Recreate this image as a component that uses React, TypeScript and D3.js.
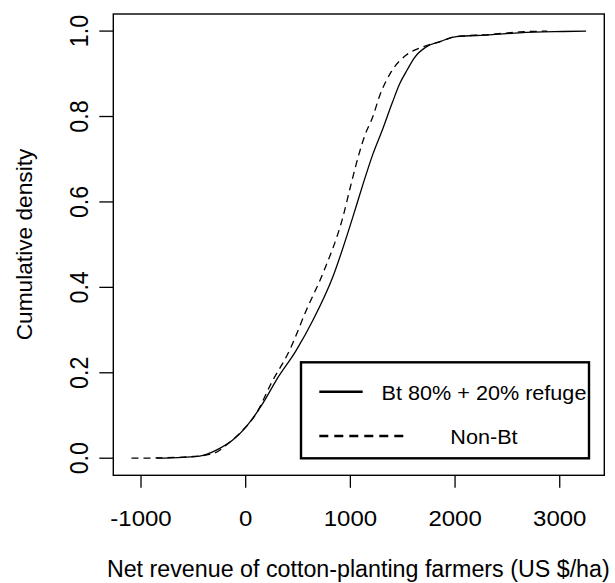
import React from "react";
import * as d3 from "d3";

const btX = [-853, -600, -439, -248, -121, 6, 165, 293, 484, 642, 833, 1024, 1120, 1215, 1311, 1400, 1470, 1545, 1613, 1725, 1852, 2011, 2329, 2616, 3029, 3252];
const btY = [0.0, 0.002, 0.005, 0.023, 0.043, 0.074, 0.129, 0.183, 0.253, 0.323, 0.425, 0.565, 0.641, 0.712, 0.772, 0.832, 0.876, 0.91, 0.938, 0.963, 0.975, 0.987, 0.991, 0.996, 0.999, 1.0];

const nonBtX = [-1091, -800, -500, -300, -184, -26, 102, 245, 420, 580, 738, 929, 1010, 1082, 1140, 1215, 1279, 1391, 1534, 1693, 1852, 2011, 2329, 2616, 2880];
const nonBtY = [0.0, 0.001, 0.004, 0.012, 0.031, 0.066, 0.105, 0.176, 0.253, 0.347, 0.433, 0.565, 0.645, 0.712, 0.757, 0.8, 0.848, 0.905, 0.944, 0.963, 0.975, 0.987, 0.992, 0.998, 1.0];

const xTicks = [-1000, 0, 1000, 2000, 3000];
const yTicks = [0, 0.2, 0.4, 0.6, 0.8, 1.0];
const legendLabels = ["Bt 80% + 20% refuge", "Non-Bt"];
const xTitle = "Net revenue of cotton-planting farmers (US $/ha)";
const yTitle = "Cumulative density";

const W = 615;
const H = 583;
const box = { left: 113.3, right: 604.3, top: 14, bottom: 475.3 };
const FONT = "'Liberation Sans', Arial, Helvetica, sans-serif";

export default function App() {
  const allX = [...btX, ...nonBtX];
  const xmin = d3.min(allX) as number;
  const xmax = d3.max(allX) as number;
  const xr = xmax - xmin;
  const x = d3.scaleLinear().domain([xmin - 0.04 * xr, xmax + 0.04 * xr]).range([box.left, box.right]);
  const y = d3.scaleLinear().domain([-0.04, 1.04]).range([box.bottom, box.top]);

  const line = d3
    .line<[number, number]>()
    .x((d) => x(d[0]))
    .y((d) => y(d[1]))
    .curve(d3.curveMonotoneX);

  const btPts = btX.map((v, i) => [v, btY[i]] as [number, number]);
  const nonPts = nonBtX.map((v, i) => [v, nonBtY[i]] as [number, number]);

  const lg = { left: 301, top: 362.3, right: 589, bottom: 458.3 };
  const lgCenter = 484;

  return (
    <svg width={W} height={H} style={{ position: "absolute", left: 0, top: 0, background: "#fff" }} fontFamily={FONT}>
      <rect x={0} y={0} width={W} height={H} fill="#fff" />
      {/* curves */}
      <path d={line(nonPts) || ""} fill="none" stroke="#000" strokeWidth={1.3} strokeDasharray="7,5" />
      <path d={line(btPts) || ""} fill="none" stroke="#000" strokeWidth={1.3} />

      {/* plot box */}
      <rect x={box.left} y={box.top} width={box.right - box.left} height={box.bottom - box.top} fill="none" stroke="#000" strokeWidth={1.4} />

      {/* x axis ticks */}
      {xTicks.map((t) => (
        <g key={"xt" + t}>
          <line x1={x(t)} x2={x(t)} y1={box.bottom} y2={box.bottom + 12.5} stroke="#000" strokeWidth={1.3} />
          <text
            transform={`translate(${x(t)},525.7) scale(1.09,1)`}
            textAnchor="middle"
            fontSize={22}
            fill="#000"
          >
            {t}
          </text>
        </g>
      ))}

      {/* y axis ticks */}
      {yTicks.map((t) => (
        <g key={"yt" + t}>
          <line x1={box.left - 14} x2={box.left} y1={y(t)} y2={y(t)} stroke="#000" strokeWidth={1.3} />
          <text
            transform={`translate(88.3,${y(t)}) rotate(-90) scale(1,1.12)`}
            textAnchor="middle"
            fontSize={23.2}
            fill="#000"
          >
            {d3.format(".1f")(t)}
          </text>
        </g>
      ))}

      {/* axis titles */}
      <text transform={`translate(358.3,576.7) scale(0.95,1)`} textAnchor="middle" fontSize={24.5} fill="#000">
        {xTitle}
      </text>
      <text transform={`translate(31.7,244.5) rotate(-90)`} textAnchor="middle" fontSize={22.7} fill="#000">
        {yTitle}
      </text>

      {/* legend */}
      <rect x={lg.left} y={lg.top} width={lg.right - lg.left} height={lg.bottom - lg.top} fill="#fff" stroke="#000" strokeWidth={2.4} />
      <line x1={319.3} x2={362.7} y1={391.7} y2={391.7} stroke="#000" strokeWidth={2.6} />
      <line x1={319.3} x2={404} y1={436} y2={436} stroke="#000" strokeWidth={2.6} strokeDasharray="9,6" />
      <text transform={`translate(${lgCenter},400) scale(1.03,1)`} textAnchor="middle" fontSize={21} fill="#000">
        {legendLabels[0]}
      </text>
      <text transform={`translate(${lgCenter},444.3) scale(1.03,1)`} textAnchor="middle" fontSize={21} fill="#000">
        {legendLabels[1]}
      </text>
    </svg>
  );
}
